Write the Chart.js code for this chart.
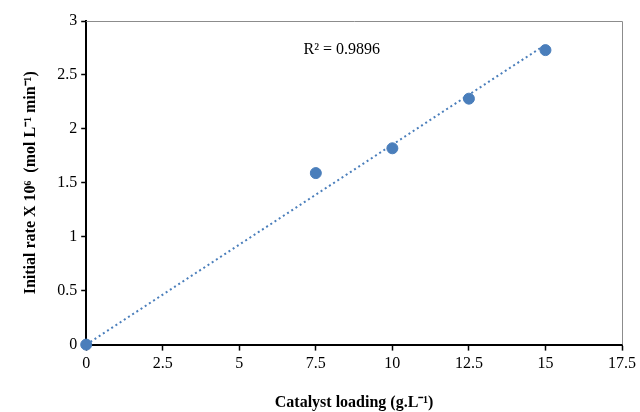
<!DOCTYPE html>
<html>
<head>
<meta charset="utf-8">
<script src="https://cdn.jsdelivr.net/npm/chart.js@4/dist/chart.umd.min.js"></script>
<style>
  html, body { margin: 0; padding: 0; background: #fff; }
  #wrap { width: 640px; height: 412px; }
</style>
</head>
<body>
<div id="wrap"><canvas id="rateChart"></canvas></div>
<script>
// catalyst loading (g/L) vs initial rate x 10^6
var loading = [0, 7.5, 10, 12.5, 15];
var rate = [0, 1.59, 1.82, 2.28, 2.73];

// linear trendline (through origin)
var trendX = [0, 15];
var trendY = [0, 2.78];
var r2Label = 'R² = 0.9896';

var blue = '#4a7ebb';
var font = 'Liberation Serif';

var points = loading.map(function(x, i){ return {x: x, y: rate[i]}; });
var trend = trendX.map(function(x, i){ return {x: x, y: trendY[i]}; });

// grey frame on top/right + R2 text
var framePlugin = {
  id: 'frame',
  beforeDatasetsDraw: function(chart){
    var a = chart.chartArea, c = chart.ctx;
    c.save();
    c.strokeStyle = '#8c8c8c';
    c.lineWidth = 1;
    c.beginPath();
    c.moveTo(a.left, a.top + 0.5);
    c.lineTo(a.right + 0.5, a.top + 0.5);
    c.lineTo(a.right + 0.5, a.bottom);
    c.stroke();
    c.restore();
  },
  afterDraw: function(chart){
    var c = chart.ctx;
    var x = chart.scales.x.getPixelForValue(7.1);
    var y = chart.scales.y.getPixelForValue(2.73);
    c.save();
    c.fillStyle = '#000';
    c.font = '16px "' + font + '"';
    c.textAlign = 'left';
    c.textBaseline = 'middle';
    c.fillText(r2Label, x, y);
    c.restore();
  }
};

var ctx = document.getElementById('rateChart').getContext('2d');

var scatter_config = {
  type: 'scatter',
  data: {
    datasets: [{
      label: 'rate',
      data: points,
      backgroundColor: blue,
      borderColor: blue,
      pointRadius: 5.5,
      pointHoverRadius: 5.5,
      clip: false,
      order: 1
    },{
      label: 'trend',
      type: 'line',
      data: trend,
      borderColor: blue,
      borderWidth: 2,
      borderDash: [2, 3],
      pointRadius: 0,
      fill: false,
      order: 2
    }]
  },
  options: {
    responsive: true,
    maintainAspectRatio: false,
    animation: false,
    layout: { padding: { top: 21, right: 9, left: 17, bottom: 0 } },
    plugins: { legend: { display: false }, tooltip: { enabled: false } },
    scales: {
      x: {
        type: 'linear', min: 0, max: 17.5,
        ticks: { stepSize: 2.5, color: '#000', font: { family: font, size: 16 }, padding: 4, maxRotation: 0 },
        grid: { drawOnChartArea: false, tickLength: 6, color: '#000', tickWidth: 1.5 },
        border: { color: '#000', width: 2 },
        title: { display: true, text: 'Catalyst loading (g.L⁻¹)', color: '#000',
                 font: { family: font, size: 16, weight: 'bold' }, padding: { top: 15, bottom: 0 } }
      },
      y: {
        min: 0, max: 3,
        ticks: { stepSize: 0.5, color: '#000', font: { family: font, size: 16 }, padding: 4,
                 callback: function(v){ return String(v); } },
        grid: { drawOnChartArea: false, tickLength: 5, color: '#000', tickWidth: 1.5 },
        border: { color: '#000', width: 2 },
        title: { display: true, text: 'Initial rate X 10⁶  (mol L⁻¹ min⁻¹)', color: '#000',
                 font: { family: font, size: 16, weight: 'bold' }, padding: { bottom: 13 } }
      }
    }
  },
  plugins: [framePlugin]
};

var rateChart = new Chart(ctx, scatter_config);
</script>
</body>
</html>
